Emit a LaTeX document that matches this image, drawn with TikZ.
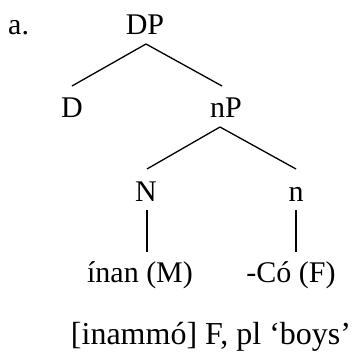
\documentclass[tikz,border=0pt]{standalone}
\usepackage{fontspec}
\setmainfont{Liberation Serif}
\begin{document}
\begin{tikzpicture}[x=1pt,y=1pt,
  lab/.style={inner sep=0pt, anchor=base, font=\fontsize{30}{32}\selectfont},
  edge/.style={line width=1.3pt}]
\useasboundingbox (0,0) rectangle (353,352);
\node[lab, anchor=base west] (a) at (8,317) {a.};
\node[lab] (DP) at (145,317) {DP};
\node[lab] (D) at (72,234) {D};
\node[lab] (nP) at (226,234) {nP};
\node[lab] (N) at (146,150) {N};
\node[lab] (n) at (296,150) {n};
\node[lab] (inan) at (140,69) {ínan (M)};
\node[lab] (Co) at (291,69) {-Có (F)};
\node[lab, font=\fontsize{32}{34}\selectfont] (gloss) at (211,7) {[inammó] F, pl ‘boys’};
\draw[edge] ([shift={(1pt,-9pt)}]DP.base) -- ([shift={(0pt,32pt)}]D.base);
\draw[edge] ([shift={(1pt,-9pt)}]DP.base) -- ([shift={(-4pt,32pt)}]nP.base);
\draw[edge] ([shift={(-6pt,-9pt)}]nP.base) -- ([shift={(1pt,33pt)}]N.base);
\draw[edge] ([shift={(-6pt,-9pt)}]nP.base) -- ([shift={(0pt,33pt)}]n.base);
\draw[edge] ([shift={(1pt,-8pt)}]N.base) -- ([shift={(7pt,31pt)}]inan.base);
\draw[edge] ([shift={(0pt,-8pt)}]n.base) -- ([shift={(5pt,31pt)}]Co.base);
\end{tikzpicture}
\end{document}
